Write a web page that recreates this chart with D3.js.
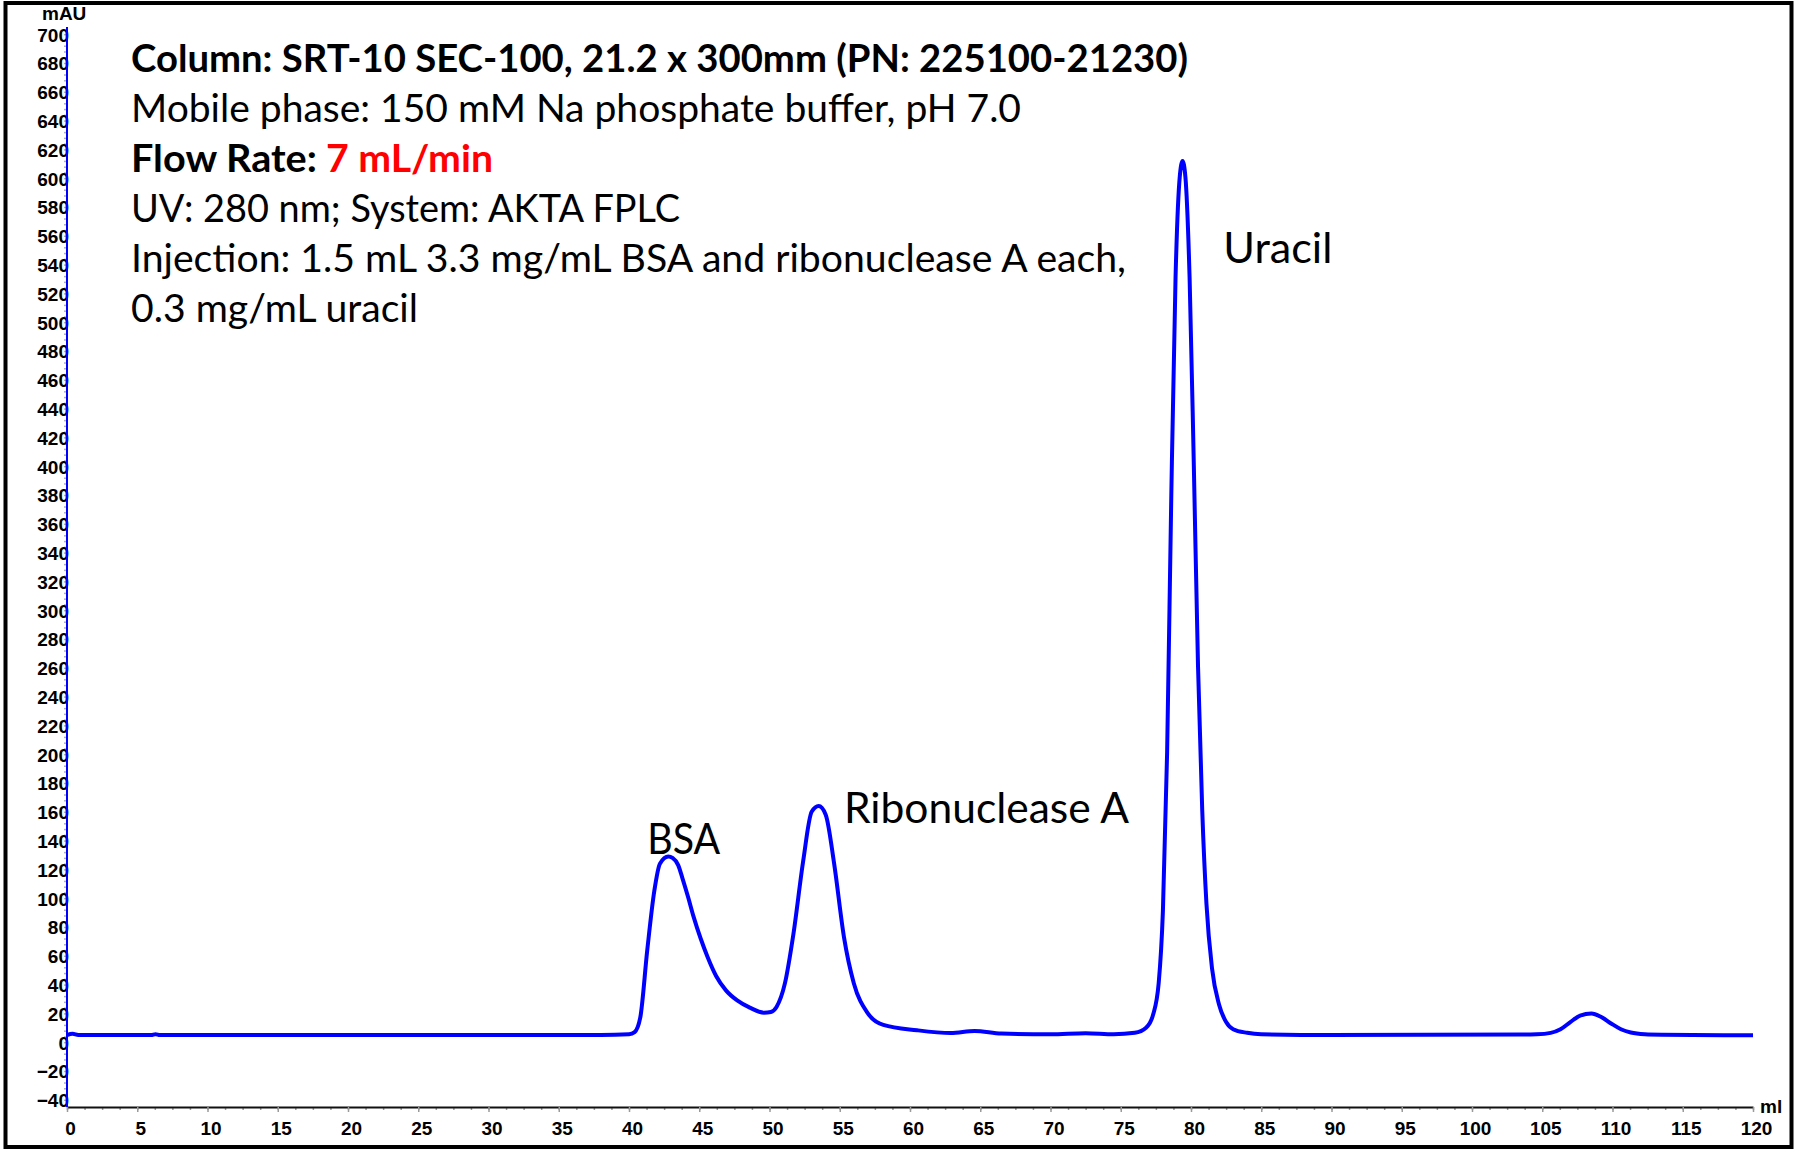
<!DOCTYPE html>
<html>
<head>
<meta charset="utf-8">
<script src="https://cdn.jsdelivr.net/npm/d3@7"></script>
<style>
  body { margin: 0; background: #fff; }
  .info { font-family: Lato, "Open Sans", sans-serif; font-size: 38px; fill: #000; }
  .peak-label { font-family: Lato, "Open Sans", sans-serif; font-size: 42px; fill: #000; }
  .axis text { font-family: "Liberation Sans", Arial, sans-serif; font-size: 19px; font-weight: bold; fill: #000; }
  .unit { font-family: "Liberation Sans", Arial, sans-serif; font-size: 19px; font-weight: bold; fill: #000; }
</style>
</head>
<body>
<div id="chart"></div>
<script>
// Chromatogram values (elution volume in ml, signal in mAU)
const volume = [
  0, 0.4, 0.8, 6.0, 6.3, 6.6, 20, 38, 40, 40.4, 40.8, 41.3, 41.8, 42.2, 42.8,
  43.1, 43.5, 43.8, 44.2, 44.6, 45.1, 45.6, 46.2, 46.9, 47.7, 48.6, 49.6,
  50.1, 50.5, 51.1, 51.7, 52.4, 53.0, 53.5, 54.0, 54.6, 55.3, 56.0, 57.0,
  58.1, 60.5, 62.9, 64.6, 66.5, 70, 72.5, 74.5, 76, 76.8, 77.3, 77.7, 78.0,
  78.3, 78.6, 78.9, 79.2, 79.4, 79.6, 79.9, 80.2, 80.5, 80.8, 81.1, 81.5,
  82.0, 82.5, 83.0, 84, 85, 90, 103.5, 104.6, 105.6, 106.3, 107.0, 107.7,
  108.5, 109.2, 109.9, 110.6, 111.3, 112.3, 113.5, 120
];
const absorbance = [
  5, 5.8, 5, 5, 5.6, 5, 5, 5, 5.5, 7, 17, 64, 105, 124, 129,
  128, 123, 114, 101, 87, 72, 59, 46, 36, 29, 24, 20.5,
  21, 24.5, 41, 75, 126, 160, 164, 158, 124, 73, 41, 20,
  12, 8.3, 6.4, 7.8, 6, 5.5, 6.3, 5.5, 6.5, 10, 19, 41, 91,
  201, 381, 531, 601, 612, 601, 531, 401, 261, 161, 96, 51,
  26, 14, 9, 6.5, 5.5, 5, 5.3, 5.5, 6.5, 9, 14, 18.5,
  20, 17.5, 13, 9, 6.7, 5.5, 5.2, 4.8
];

// Axis ticks
const xTicks = d3.range(0, 121, 5);
const xMinorTicks = d3.range(0, 120.01, 1.25);
const yTicks = d3.range(-40, 701, 20);
const yMinorTicks = d3.range(-44, 704, 4);

// Annotation text
const infoLines = [
  'Column: SRT-10 SEC-100, 21.2 x 300mm (PN: 225100-21230)',
  'Mobile phase: 150 mM Na phosphate buffer, pH 7.0',
  'Flow Rate:',
  'UV: 280 nm; System: AKTA FPLC',
  'Injection: 1.5 mL 3.3 mg/mL BSA and ribonuclease A each,',
  '0.3 mg/mL uracil'
];
const flowValue = '7 mL/min';
const peakNames = ['BSA', 'Ribonuclease A', 'Uracil'];

const W = 1795, H = 1149;

const svg = d3.select('#chart')
  .append('svg')
  .attr('width', W)
  .attr('height', H);

// Outer frame
svg.append('rect')
  .attr('x', 5.5).attr('y', 3)
  .attr('width', W - 9).attr('height', H - 5)
  .attr('fill', 'none')
  .attr('stroke', '#000')
  .attr('stroke-width', 4);

const x = d3.scaleLinear().domain([0, 120]).range([67, 1753]);
const y = d3.scaleLinear().domain([-45, 705]).range([1107, 27]);

// Minor x ticks
svg.append('g')
  .attr('transform', `translate(0,${y(-45)})`)
  .call(d3.axisBottom(x).tickValues(xMinorTicks).tickSize(3).tickSizeOuter(0).tickFormat(''))
  .call(g => g.select('.domain').remove())
  .call(g => g.selectAll('.tick line').attr('stroke', '#9a9a9a').attr('stroke-width', 1.5));

// Major x axis
const xAxis = svg.append('g')
  .attr('class', 'axis')
  .attr('transform', `translate(0,${y(-45)})`)
  .call(d3.axisBottom(x).tickValues(xTicks).tickSize(5).tickSizeOuter(0).tickFormat(d3.format('d')));
xAxis.select('.domain').attr('stroke', '#111').attr('stroke-width', 2);
xAxis.selectAll('.tick line').attr('stroke', '#9a9a9a').attr('stroke-width', 1.5);
xAxis.selectAll('.tick text').attr('y', 28).attr('dy', 0).attr('dx', 3);

// Minor y ticks (grey dots left of the axis)
svg.append('g')
  .attr('transform', `translate(${x(0)},0)`)
  .call(d3.axisLeft(y).tickValues(yMinorTicks).tickSize(3).tickSizeOuter(0).tickFormat(''))
  .call(g => g.select('.domain').remove())
  .call(g => g.selectAll('.tick line').attr('stroke', '#b0b0b0').attr('stroke-width', 1.5));

// Y axis with labels sitting on the axis line
const yAxis = svg.append('g')
  .attr('class', 'axis')
  .attr('transform', `translate(${x(0)},0)`)
  .call(d3.axisLeft(y).tickValues(yTicks).tickSize(0).tickSizeOuter(0).tickPadding(-2));
yAxis.selectAll('.tick text').attr('dy', '0.36em');
yAxis.select('.domain').remove();
yAxis.append('line')
  .attr('x1', 0).attr('x2', 0)
  .attr('y1', y(705)).attr('y2', y(-45))
  .attr('stroke', '#0000ff')
  .attr('stroke-width', 2);

// Unit labels
svg.append('text').attr('class', 'unit').attr('x', 42).attr('y', 20).text('mAU');
svg.append('text').attr('class', 'unit').attr('x', 1760).attr('y', 1113).text('ml');

// Trace
const points = volume.map((v, i) => [v, absorbance[i]]);
const line = d3.line()
  .x(d => x(d[0]))
  .y(d => y(d[1]))
  .curve(d3.curveMonotoneX);

svg.append('path')
  .datum(points)
  .attr('fill', 'none')
  .attr('stroke', '#0000ff')
  .attr('stroke-width', 4)
  .attr('stroke-linejoin', 'round')
  .attr('d', line);

// Method description block
const infoWidths = [1057, 890, 186, 549, 995, 287];
const infoBold = [true, false, true, false, false, false];
infoLines.forEach((t, i) => {
  svg.append('text')
    .attr('class', 'info')
    .attr('x', 131)
    .attr('y', 72 + i * 50)
    .attr('font-weight', infoBold[i] ? 'bold' : 'normal')
    .attr('textLength', infoWidths[i])
    .attr('lengthAdjust', 'spacingAndGlyphs')
    .text(t);
});
svg.append('text')
  .attr('class', 'info')
  .attr('x', 326)
  .attr('y', 172)
  .attr('font-weight', 'bold')
  .style('fill', '#ff0000')
  .attr('textLength', 167)
  .attr('lengthAdjust', 'spacingAndGlyphs')
  .text(flowValue);

// Peak labels, anchored in data units
const labelAt = [[41.3, 131], [55.3, 152], [82.3, 541]];
const labelWidths = [73, 285, 109];
peakNames.forEach((name, i) => {
  svg.append('text')
    .attr('class', 'peak-label')
    .attr('x', x(labelAt[i][0]))
    .attr('y', y(labelAt[i][1]))
    .attr('textLength', labelWidths[i])
    .attr('lengthAdjust', 'spacingAndGlyphs')
    .text(name);
});
</script>
</body>
</html>
